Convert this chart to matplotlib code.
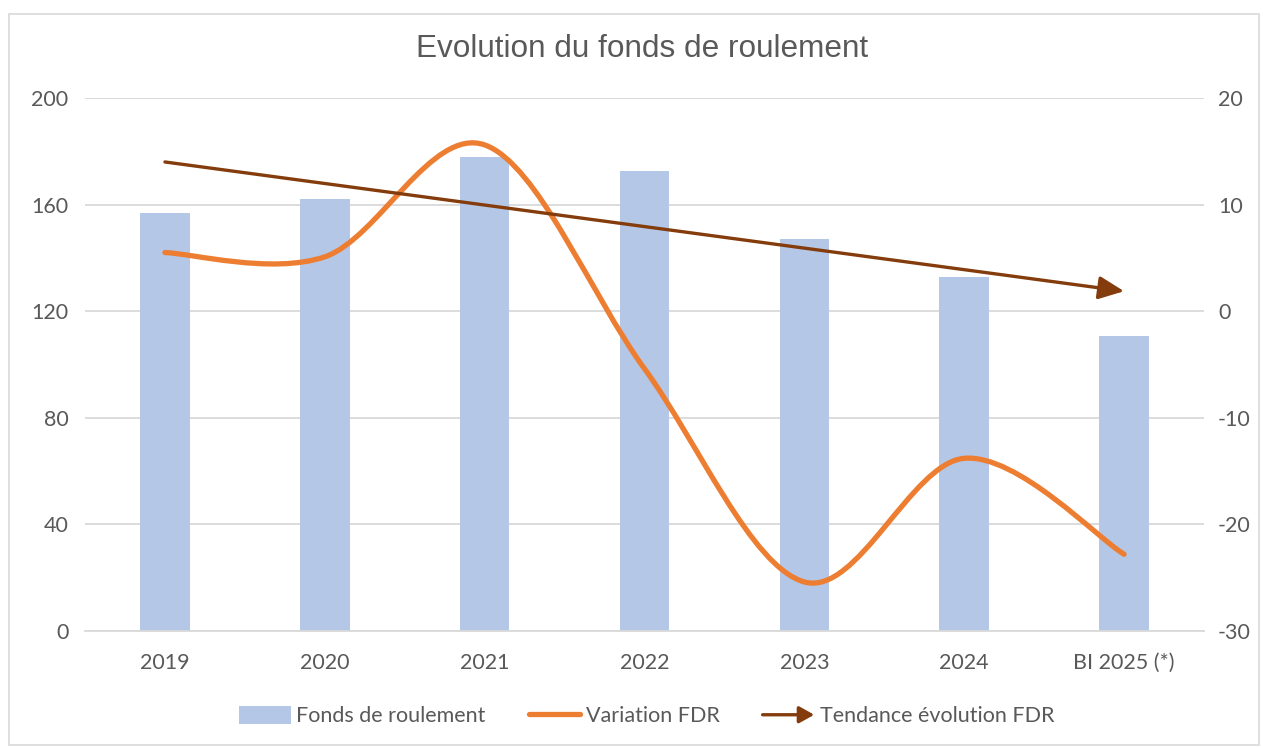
import numpy as np
import matplotlib
matplotlib.use("Agg")
import matplotlib.pyplot as plt
from matplotlib.path import Path
from matplotlib.patches import PathPatch, Patch, FancyArrowPatch
from matplotlib.lines import Line2D
from matplotlib.legend_handler import HandlerPatch

# -----------------------------------
# data
# -----------------------------------
categories = ["2019", "2020", "2021", "2022", "2023", "2024", "BI 2025 (*)"]
fonds_roulement = [157, 162, 178, 172.6, 147, 133, 110.7]       # left axis
variation_fdr = [5.5, 5.1, 15.6, -5.4, -25.4, -13.8, -22.8]     # right axis
tendance = [176, 127.5]                                          # trend line, first/last category (left axis)

left_ticks = [0, 40, 80, 120, 160, 200]
right_ticks = [-30, -20, -10, 0, 10, 20]

TXT = "#595959"
BLUE = "#B4C7E7"
ORANGE = "#ED7D31"
BROWN = "#843C0C"
GRID = "#D9D9D9"
FS = 15.5

plt.rcParams["font.family"] = ["Lato", "DejaVu Sans"]
plt.rcParams["axes.unicode_minus"] = False


def smooth_path(xs, ys):
    # Excel-style smoothed line: cubic Bezier through every point
    pts = np.column_stack([xs, ys]).astype(float)
    n = len(pts)
    verts = [pts[0]]
    codes = [Path.MOVETO]
    for i in range(n - 1):
        p0 = pts[max(i - 1, 0)]
        p1 = pts[i]
        p2 = pts[i + 1]
        p3 = pts[min(i + 2, n - 1)]
        c1 = p1 + (p2 - p0) / 6.0
        c2 = p2 - (p3 - p1) / 6.0
        verts += [c1, c2, p2]
        codes += [Path.CURVE4] * 3
    return Path(verts, codes)


class HandlerArrow(HandlerPatch):
    def create_artists(self, legend, orig_handle, xdescent, ydescent,
                       width, height, fontsize, trans):
        y = height / 2 - ydescent
        a = FancyArrowPatch((-xdescent, y), (-xdescent + width, y),
                            arrowstyle="-|>,head_length=9,head_width=5",
                            color=BROWN, lw=2.4, mutation_scale=1,
                            shrinkA=0, shrinkB=0, transform=trans)
        return [a]


fig = plt.figure(figsize=(12.63, 7.47), dpi=100)
fig.patch.set_facecolor("white")

# chart border
fig.add_artist(plt.Rectangle((9 / 1263, 2 / 747), 1250 / 1263, 731 / 747,
                             transform=fig.transFigure, fill=False,
                             edgecolor=GRID, lw=1.2))

ax = fig.add_axes([85 / 1263, 116 / 747, 1119 / 1263, 533 / 747])
ax2 = ax.twinx()

x = np.arange(len(categories))

ax.bar(x, fonds_roulement, width=0.31, color=BLUE, zorder=2)
ax.set_xlim(-0.5, len(categories) - 0.5)
ax.set_ylim(0, 200)
ax.set_yticks(left_ticks)
ax.set_xticks(x)
ax.set_xticklabels(categories)
ax.yaxis.grid(True, color=GRID, lw=1.3, zorder=0)
ax.set_axisbelow(True)

ax2.set_ylim(-30, 20)
ax2.set_yticks(right_ticks)

for a in (ax, ax2):
    for s in a.spines.values():
        s.set_visible(False)
    a.tick_params(length=0, labelsize=FS, colors=TXT)
ax.tick_params(axis="x", pad=16)
ax.tick_params(axis="y", pad=12)
ax2.tick_params(axis="y", pad=10)
ax.spines["bottom"].set_visible(True)
ax.spines["bottom"].set_color(GRID)
ax.spines["bottom"].set_linewidth(1.3)

# variation FDR, smoothed
curve = PathPatch(smooth_path(x, variation_fdr), facecolor="none",
                  edgecolor=ORANGE, lw=3.8, capstyle="round", zorder=4)
ax2.add_patch(curve)

# trend line with arrow head (left-axis values, drawn above the bars)
ax2.annotate("", xy=(x[-1], tendance[1]), xytext=(x[0], tendance[0]),
             xycoords=ax.transData, textcoords=ax.transData,
             arrowprops=dict(arrowstyle="-|>,head_length=1.1,head_width=0.5",
                             color=BROWN, lw=2.4, shrinkA=0, shrinkB=0,
                             mutation_scale=14),
             zorder=5)

fig.text(0.508, 1 - 49 / 747, "Evolution du fonds de roulement", ha="center",
         va="center", fontsize=22.7, color=TXT, family=["Liberation Sans", "DejaVu Sans"])

handles = [Patch(facecolor=BLUE, edgecolor="none"),
           Line2D([], [], color=ORANGE, lw=3.8, solid_capstyle="round"),
           Patch(color=BROWN)]
labels = ["Fonds de roulement", "Variation FDR", "Tendance évolution FDR"]
fig.legend(handles, labels, loc="center", bbox_to_anchor=(0.512, 1 - 716 / 747),
           ncol=3, frameon=False, fontsize=FS, labelcolor=TXT,
           handlelength=2.4, handleheight=0.9, handletextpad=0.25,
           columnspacing=2.0, handler_map={handles[2]: HandlerArrow()})

fig.savefig("out.png", dpi=100, facecolor="white")
